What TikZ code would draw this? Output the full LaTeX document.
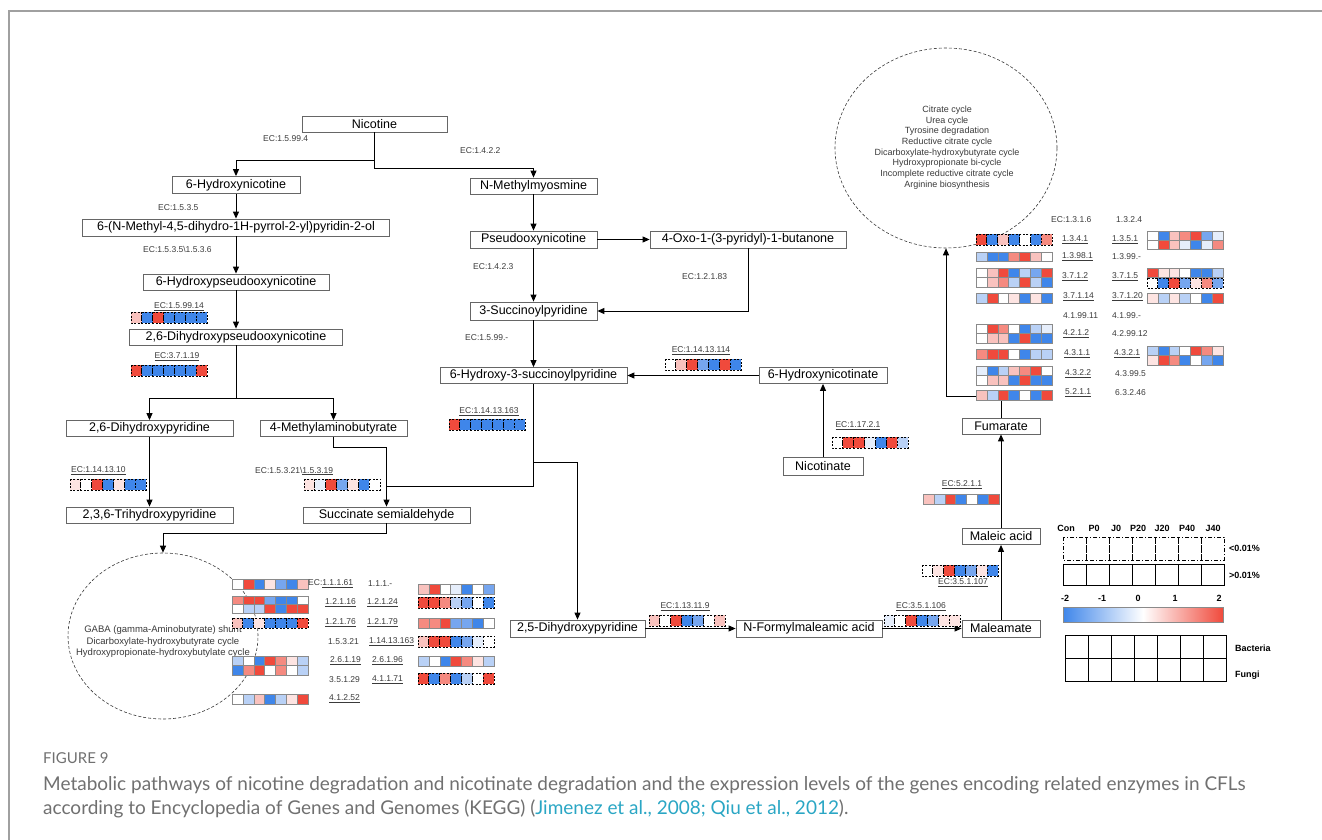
\documentclass[tikz,border=0pt]{standalone}
\usepackage{fontspec}
\setmainfont{Liberation Sans}
\newfontfamily\capfont{Lato}
\usetikzlibrary{arrows.meta,shapes.geometric}
\definecolor{hR}{HTML}{F04A3C}
\definecolor{hS}{HTML}{F58A80}
\definecolor{hP}{HTML}{F9C2BE}
\definecolor{hQ}{HTML}{FDE4E2}
\definecolor{hW}{HTML}{FFFFFF}
\definecolor{hV}{HTML}{E6EEFB}
\definecolor{hL}{HTML}{B9D1F6}
\definecolor{hM}{HTML}{76A6EF}
\definecolor{hB}{HTML}{3F86EA}
\definecolor{boxc}{HTML}{666666}
\definecolor{cellc}{HTML}{8A8A8A}
\definecolor{ecc}{HTML}{3A3A3A}
\definecolor{framec}{HTML}{A0A0A0}
\definecolor{capgray}{HTML}{707070}
\definecolor{citec}{HTML}{2AA6C4}
\newcommand\smallf{\fontsize{8.5}{10}\selectfont}
\newcommand\hmrow[5][hsolid]{%
  \foreach \cc [count=\ii from 0] in {#5}{%
    \path[fill=\cc,#1] ({#2+\ii*10.9},#3) rectangle ++(10.9,#4);
  }}
\tikzset{
  met/.style={draw=boxc, line width=0.8pt, fill=white, inner sep=0pt, font=\fontsize{12.5}{14}\selectfont},
  arr/.style={draw=black, line width=1pt, -{Triangle[length=7pt,width=6pt]}},
  ln/.style={draw=black, line width=1pt},
  ec/.style={font=\smallf, text=ecc, inner sep=0pt},
  ecw/.style={ec, anchor=west},
  hsolid/.style={draw=cellc, line width=0.6pt},
  hdash/.style={draw=black, line width=0.9pt, dash pattern=on 2pt off 1.5pt},
  circ/.style={draw=ecc, ellipse, line width=0.6pt, dash pattern=on 3pt off 2pt, inner sep=0pt},
  circtxt/.style={align=center, font=\fontsize{9}{10.7}\selectfont, text=ecc},
  legt/.style={font=\fontsize{9}{10}\selectfont\bfseries, inner sep=0pt},
  lcell/.style={draw=black, line width=0.8pt},
  ldcell/.style={draw=black, line width=0.8pt, dash pattern=on 4pt off 2pt on 1pt off 2pt},
  capt/.style={anchor=base west, inner sep=0pt, text=capgray}
}
\begin{document}
\begin{tikzpicture}[x=1pt,y=-1pt]
\useasboundingbox (0,0) rectangle (1322,840);
\draw[framec,line width=1.2pt] (9,840) -- (9,11) -- (1322,11);

% pathway circles
\node[circ, minimum width=222, minimum height=200] (rc) at (946,148) {};
\node[circtxt] (rct) at (947,147.5) {Citrate cycle\\Urea cycle\\Tyrosine degradation\\Reductive citrate cycle\\Dicarboxylate-hydroxybutyrate cycle\\Hydroxypropionate bi-cycle\\Incomplete reductive citrate cycle\\Arginine biosynthesis};
\node[circ, minimum width=190, minimum height=166] (lc) at (163,636) {};
\node[circtxt, font=\fontsize{9.5}{11.5}\selectfont] (lct) at (163,642) {GABA (gamma-Aminobutyrate) shunt\\Dicarboxylate-hydroxybutyrate cycle\\Hydroxypropionate-hydroxybutylate cycle};

% metabolites
\node[met, minimum width=145, minimum height=16] (nic) at (374.5,124) {Nicotine};
\node[met, minimum width=128, minimum height=17] (hn) at (236,185) {6-Hydroxynicotine};
\node[met, minimum width=307, minimum height=17] (nmp) at (236,227.5) {6-(N-Methyl-4,5-dihydro-1H-pyrrol-2-yl)pyridin-2-ol};
\node[met, minimum width=186, minimum height=16] (hpo) at (236,282) {6-Hydroxypseudooxynicotine};
\node[met, minimum width=213, minimum height=16] (dhpo) at (236,337) {2,6-Dihydroxypseudooxynicotine};
\node[met, minimum width=167, minimum height=16] (dhp) at (149.5,428.5) {2,6-Dihydroxypyridine};
\node[met, minimum width=147, minimum height=16] (mab) at (333.5,428.5) {4-Methylaminobutyrate};
\node[met, minimum width=167, minimum height=16] (thp) at (149.5,515) {2,3,6-Trihydroxypyridine};
\node[met, minimum width=167, minimum height=16] (ssa) at (386.5,515) {Succinate semialdehyde};
\node[met, minimum width=127, minimum height=16] (nmm) at (533.5,186) {N-Methylmyosmine};
\node[met, minimum width=127, minimum height=17] (pox) at (533.5,239.5) {Pseudooxynicotine};
\node[met, minimum width=196, minimum height=17] (oxo) at (748,239.5) {4-Oxo-1-(3-pyridyl)-1-butanone};
\node[met, minimum width=127, minimum height=18] (sp) at (533.5,311) {3-Succinoylpyridine};
\node[met, minimum width=187, minimum height=16] (hsp) at (533.5,375.5) {6-Hydroxy-3-succinoylpyridine};
\node[met, minimum width=128, minimum height=16] (hnc) at (823,375.5) {6-Hydroxynicotinate};
\node[met, minimum width=80, minimum height=18] (nc) at (823,466) {Nicotinate};
\node[met, minimum width=135, minimum height=17] (dhp25) at (577.5,628.5) {2,5-Dihydroxypyridine};
\node[met, minimum width=146, minimum height=17] (nfa) at (809,628.5) {N-Formylmaleamic acid};
\node[met, minimum width=78, minimum height=17] (mlm) at (1001,628.5) {Maleamate};
\node[met, minimum width=78, minimum height=16] (mla) at (1001,536.5) {Maleic acid};
\node[met, minimum width=78, minimum height=16] (fum) at (1001,426) {Fumarate};

% connectors
\coordinate (j1) at (386.5,486);
\coordinate (j2) at (533.5,462);
\draw[arr] (nic.south) -- ++(0,28) -| (hn.north);
\draw[arr] (nic.south) -- ++(0,36) -| (nmm.north);
\draw[arr] (hn.south) -- (nmp.north);
\draw[arr] (nmp.south) -- (hpo.north);
\draw[arr] (hpo.south) -- (dhpo.north);
\draw[arr] (dhpo.south) -- ++(0,53) -| (dhp.north);
\draw[arr] (dhpo.south) -- ++(0,53) -| (mab.north);
\draw[arr] (dhp.south) -- (thp.north);
\draw[arr] (mab.south) -- ++(0,11) -| (ssa.north);
\draw[ln] (hsp.south) |- (j1);
\draw[arr] (j2) -| (dhp25.north);
\draw[arr] (ssa.south) -- ++(0,10) -| (lc.north);
\draw[arr] (nmm.south) -- (pox.north);
\draw[arr] (pox.east) -- (oxo.west);
\draw[arr] (pox.south) -- (sp.north);
\draw[arr] (oxo.south) |- (sp.east);
\draw[arr] (sp.south) -- (hsp.north);
\draw[arr] (hnc.west) -- (hsp.east);
\draw[arr] (nc.north) -- (hnc.south);
\draw[arr] (dhp25.east) -- (nfa.west);
\draw[arr] (nfa.east) -- (mlm.west);
\draw[arr] (mlm.north) -- (mla.south);
\draw[arr] (mla.north) -- (fum.south);
\draw[arr] (fum.north) -- ++(0,-21) -| (rc.south);

% plain EC labels
\node[ecw] (e1) at (263,139) {EC:1.5.99.4};
\node[ecw] (e2) at (460,151) {EC:1.4.2.2};
\node[ecw] (e3) at (158,208) {EC:1.5.3.5};
\node[ecw] (e4) at (143,249) {EC:1.5.3.5\textbackslash 1.5.3.6};
\node[ecw] (e5) at (473,267) {EC:1.4.2.3};
\node[ecw] (e6) at (682,277) {EC:1.2.1.83};
\node[ecw] (e7) at (465,338) {EC:1.5.99.-};

% heatmaps on main pathway
\node[ec] (u1) at (179,307) {\underline{EC:1.5.99.14}};
\hmrow[hdash]{131}{312}{11}{hP,hB,hR,hB,hB,hB,hB}
\node[ec] (u2) at (177,357) {\underline{EC:3.7.1.19}};
\hmrow[hdash]{131}{365}{11}{hR,hB,hB,hB,hB,hB,hR}
\node[ec] (u3) at (701,351) {\underline{EC:1.14.13.114}};
\hmrow[hdash]{665}{359}{11}{hW,hP,hR,hM,hB,hR,hB}
\node[ec] (u4) at (489,412) {\underline{EC:1.14.13.163}};
\hmrow[hdash]{449}{419}{11}{hR,hB,hB,hB,hB,hB,hB}
\node[ecw] (u5) at (71,471) {\underline{EC:1.14.13.10}};
\hmrow[hdash]{70}{479}{11}{hQ,hW,hR,hB,hQ,hB,hB}
\node[ecw] (u6) at (255,471) {EC:1.5.3.21\textbackslash\underline{1.5.3.19}};
\hmrow[hdash]{304}{479}{11}{hQ,hV,hR,hM,hQ,hB,hW}
\node[ec] (u7) at (858,426) {\underline{EC:1.17.2.1}};
\hmrow[hdash]{832}{437}{11}{hW,hR,hR,hV,hB,hR,hL}
\node[ec] (u8) at (685,607) {\underline{EC:1.13.11.9}};
\hmrow[hdash]{649}{615}{11}{hP,hW,hR,hB,hM,hW,hP}
\node[ec] (u9) at (921,607) {\underline{EC:3.5.1.106}};
\hmrow[hdash]{884}{615}{11}{hV,hW,hR,hB,hM,hQ,hQ}
\node[ec] (u10) at (963,583) {\underline{EC:3.5.1.107}};
\hmrow[hdash]{922}{565}{11}{hW,hQ,hR,hB,hM,hQ,hB}
\node[ec] (u11) at (962,485) {\underline{EC:5.2.1.1}};
\hmrow{923}{494}{10}{hP,hL,hR,hB,hW,hB,hR}

% heatmaps near the GABA circle
\hmrow{232}{579}{10}{hW,hR,hB,hQ,hM,hB,hP}
\hmrow{418}{584}{10}{hP,hR,hW,hV,hB,hW,hM}
\hmrow{232}{596}{8.5}{hS,hR,hR,hM,hB,hB,hW}
\hmrow{232}{604.5}{8.5}{hW,hL,hL,hR,hB,hR,hR}
\hmrow[hdash]{418}{597}{11}{hR,hR,hS,hL,hM,hW,hB}
\hmrow[hdash]{232}{618}{10}{hP,hB,hQ,hB,hB,hB,hR}
\hmrow{418}{618}{10}{hS,hS,hR,hM,hM,hB,hW}
\hmrow[hdash]{418}{636}{11}{hP,hR,hR,hB,hM,hV,hW}
\hmrow{232}{656}{9.5}{hL,hW,hB,hR,hS,hQ,hL}
\hmrow{232}{665.5}{9.5}{hB,hS,hR,hW,hS,hW,hL}
\hmrow{418}{656}{10}{hL,hW,hB,hR,hS,hQ,hL}
\hmrow[hdash]{418}{673}{11}{hR,hB,hS,hB,hL,hW,hR}
\hmrow{232}{694}{10}{hW,hL,hP,hB,hL,hQ,hR}
\node[ecw] (g1) at (308,584) {EC:\underline{1.1.1.61}};
\node[ecw] (g2) at (368,584) {1.1.1.-};
\node[ecw] (g3) at (325,603) {\underline{1.2.1.16}};
\node[ecw] (g4) at (367,603) {\underline{1.2.1.24}};
\node[ecw] (g5) at (325,623) {\underline{1.2.1.76}};
\node[ecw] (g6) at (367,623) {\underline{1.2.1.79}};
\node[ecw] (g7) at (328,642) {1.5.3.21};
\node[ecw] (g8) at (369,642) {\underline{1.14.13.163}};
\node[ecw] (g9) at (330,661) {\underline{2.6.1.19}};
\node[ecw] (g10) at (372,661) {\underline{2.6.1.96}};
\node[ecw] (g11) at (329,680) {3.5.1.29};
\node[ecw] (g12) at (372,680) {\underline{4.1.1.71}};
\node[ecw] (g13) at (329,699) {\underline{4.1.2.52}};

% heatmaps near the citrate circle
\hmrow[hdash]{976}{234}{11}{hR,hB,hP,hB,hW,hB,hS}
\hmrow{1147}{231}{9}{hW,hB,hP,hS,hR,hM,hV}
\hmrow{1147}{240}{9}{hW,hR,hP,hV,hB,hV,hS}
\hmrow{976}{252}{9.5}{hL,hB,hB,hS,hR,hP,hW}
\hmrow{976}{268}{9.5}{hW,hP,hR,hB,hL,hM,hR}
\hmrow{976}{277.5}{9.5}{hW,hP,hS,hL,hR,hL,hB}
\hmrow{1147}{268}{9.5}{hR,hQ,hQ,hW,hB,hB,hL}
\hmrow[hdash]{1147}{278}{10}{hW,hB,hR,hM,hQ,hS,hM}
\hmrow{976}{293}{10}{hL,hR,hW,hQ,hB,hQ,hB}
\hmrow{1147}{293}{10}{hQ,hL,hQ,hL,hW,hB,hR}
\hmrow{976}{324}{9.5}{hW,hR,hS,hW,hB,hL,hV}
\hmrow{976}{333.5}{9.5}{hW,hP,hP,hB,hR,hB,hB}
\hmrow{976}{349}{10}{hS,hR,hR,hW,hB,hL,hL}
\hmrow{1147}{346}{9.5}{hL,hB,hL,hW,hR,hS,hQ}
\hmrow{1147}{355.5}{9.5}{hQ,hR,hS,hB,hW,hM,hB}
\hmrow{976}{366}{9.5}{hV,hB,hL,hP,hS,hR,hW}
\hmrow{976}{375.5}{9.5}{hW,hP,hP,hB,hR,hB,hB}
\hmrow{976}{390}{10}{hP,hL,hR,hB,hW,hB,hR}
\node[ecw] (r1) at (1051,220) {EC:1.3.1.6};
\node[ecw] (r2) at (1116,220) {1.3.2.4};
\node[ecw] (r3) at (1062,240) {\underline{1.3.4.1}};
\node[ecw] (r4) at (1112,240) {\underline{1.3.5.1}};
\node[ecw] (r5) at (1062,257) {\underline{1.3.98.1}};
\node[ecw] (r6) at (1112,257) {1.3.99.-};
\node[ecw] (r7) at (1062,277) {\underline{3.7.1.2}};
\node[ecw] (r8) at (1112,277) {\underline{3.7.1.5}};
\node[ecw] (r9) at (1063,297) {\underline{3.7.1.14}};
\node[ecw] (r10) at (1112,297) {\underline{3.7.1.20}};
\node[ecw] (r11) at (1063,316) {4.1.99.11};
\node[ecw] (r12) at (1112,316) {4.1.99.-};
\node[ecw] (r13) at (1063,334) {\underline{4.2.1.2}};
\node[ecw] (r14) at (1112,334) {4.2.99.12};
\node[ecw] (r15) at (1064,354) {\underline{4.3.1.1}};
\node[ecw] (r16) at (1114,354) {\underline{4.3.2.1}};
\node[ecw] (r17) at (1065,374) {\underline{4.3.2.2}};
\node[ecw] (r18) at (1115,374) {4.3.99.5};
\node[ecw] (r19) at (1065,393) {\underline{5.2.1.1}};
\node[ecw] (r20) at (1115,393) {6.3.2.46};

% legend
\foreach \t/\xx [count=\k] in {Con/1066,P0/1094,J0/1116,P20/1138,J20/1162,P40/1187,J40/1213}
  \node[legt] (lh\k) at (\xx,528) {\t};
\foreach \k in {0,...,6} {
  \draw[ldcell] ({1063+\k*23},537) rectangle ++(23,23);
  \draw[lcell] ({1063+\k*23},564) rectangle ++(23,21);
  \draw[lcell] ({1065+\k*23},635) rectangle ++(23,23);
  \draw[lcell] ({1065+\k*23},658) rectangle ++(23,23);
}
\node[legt, anchor=west] (lt1) at (1229,548) {<0.01\%};
\node[legt, anchor=west] (lt2) at (1229,575) {>0.01\%};
\foreach \t/\xx [count=\k] in {-2/1065,-1/1102,0/1138,1/1175,2/1219}
  \node[legt] (lc\k) at (\xx,598) {\t};
\shade[left color=hB, right color=hR, middle color=white] (1063,607) rectangle (1223,622);
\draw[cellc, line width=0.6pt] (1063,607) rectangle (1223,622);
\node[legt, anchor=west] (lt3) at (1235,648) {Bacteria};
\node[legt, anchor=west] (lt4) at (1235,675) {Fungi};

% caption
\node[capt, font=\capfont\fontsize{15}{17}\selectfont] (cap0) at (43,763) {FIGURE 9};
\node[capt, font=\capfont\fontsize{19}{22}\selectfont] (cap1) at (43,790) {Metabolic pathways of nicotine degradation and nicotinate degradation and the expression levels of the genes encoding related enzymes in CFLs};
\node[capt, font=\capfont\fontsize{19}{22}\selectfont] (cap2) at (43,814) {according to Encyclopedia of Genes and Genomes (KEGG) (\textcolor{citec}{Jimenez et al., 2008; Qiu et al., 2012}).};
\end{tikzpicture}
\end{document}
